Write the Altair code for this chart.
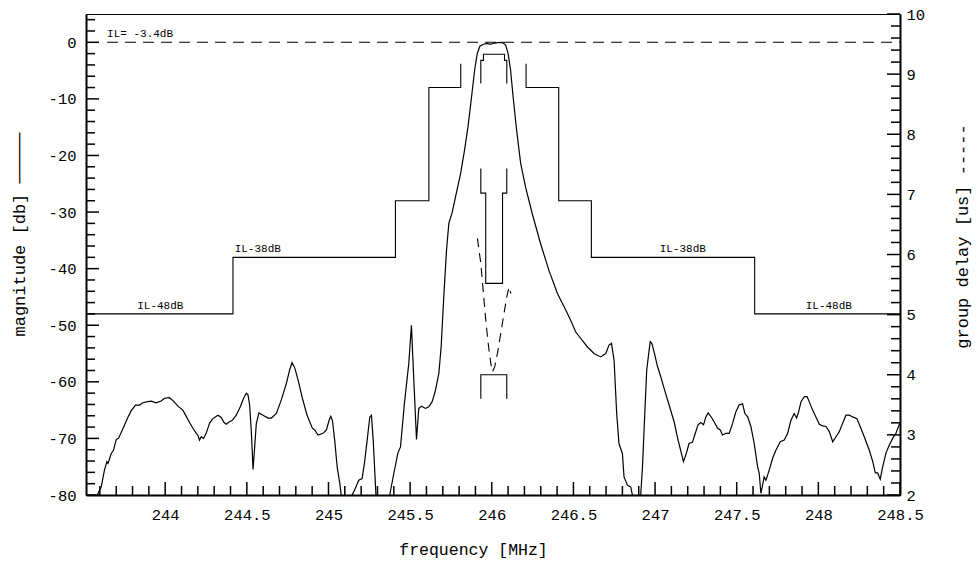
import altair as alt
import pandas as pd

# ---------------- data ----------------
freq_mhz = [243.570, 243.587, 243.608, 243.628, 243.643, 243.650, 243.669, 243.683, 243.700, 243.714,
            243.741, 243.771, 243.792, 243.818, 243.843, 243.863, 243.894, 243.914, 243.945, 243.975,
            243.996, 244.026, 244.051, 244.078, 244.108, 244.129, 244.149, 244.170, 244.190, 244.200,
            244.210, 244.221, 244.235, 244.251, 244.272, 244.292, 244.323, 244.343, 244.358, 244.374,
            244.391, 244.411, 244.435, 244.460, 244.480, 244.497, 244.507, 244.517, 244.527, 244.538,
            244.548, 244.558, 244.574, 244.599, 244.630, 244.650, 244.681, 244.711, 244.742, 244.762,
            244.777, 244.793, 244.814, 244.840, 244.869, 244.901, 244.916, 244.936, 244.967, 244.987,
            245.004, 245.014, 245.024, 245.038, 245.053, 245.069, 245.090, 245.135, 245.145, 245.165,
            245.185, 245.206, 245.220, 245.237, 245.253, 245.263, 245.274, 245.284, 245.296, 245.370,
            245.375, 245.400, 245.425, 245.441, 245.465, 245.492, 245.508, 245.520, 245.539, 245.553,
            245.570, 245.594, 245.614, 245.635, 245.655, 245.676, 245.690, 245.706, 245.723, 245.737,
            245.758, 245.778, 245.809, 245.833, 245.854, 245.874, 245.895, 245.911, 245.927, 245.948,
            245.972, 245.990, 246.003, 246.034, 246.064, 246.085, 246.100, 246.115, 246.131, 246.152,
            246.177, 246.207, 246.248, 246.299, 246.350, 246.402, 246.453, 246.483, 246.514, 246.544,
            246.585, 246.626, 246.667, 246.698, 246.718, 246.733, 246.749, 246.765, 246.779, 246.800,
            246.810, 246.831, 246.851, 246.865, 246.875, 246.905, 246.912, 246.923, 246.937, 246.949,
            246.970, 246.980, 246.994, 247.015, 247.035, 247.059, 247.086, 247.117, 247.141, 247.174,
            247.192, 247.208, 247.229, 247.243, 247.263, 247.280, 247.297, 247.311, 247.325, 247.346,
            247.362, 247.383, 247.399, 247.413, 247.434, 247.454, 247.475, 247.495, 247.515, 247.536,
            247.550, 247.567, 247.587, 247.607, 247.628, 247.638, 247.648, 247.658, 247.668, 247.679,
            247.699, 247.720, 247.740, 247.767, 247.791, 247.812, 247.832, 247.852, 247.867, 247.879,
            247.894, 247.914, 247.931, 247.944, 247.965, 247.985, 248.006, 248.026, 248.047, 248.067,
            248.088, 248.108, 248.128, 248.149, 248.169, 248.190, 248.210, 248.236, 248.256, 248.281,
            248.312, 248.333, 248.349, 248.363, 248.379, 248.394, 248.414, 248.434, 248.455, 248.475,
            248.495, 248.500]
mag_db = [-83.0, -79.8, -78.6, -75.6, -74.1, -74.4, -72.7, -72.1, -70.2, -70.0,
          -68.3, -66.3, -65.1, -64.1, -64.1, -63.7, -63.5, -63.4, -63.7, -63.4,
          -62.9, -62.8, -63.4, -64.3, -65.0, -66.1, -67.2, -68.2, -69.1, -69.4,
          -70.3, -69.7, -70.0, -69.1, -67.3, -66.5, -65.9, -66.3, -67.1, -67.5,
          -67.1, -66.8, -65.9, -64.4, -62.9, -62.0, -62.3, -64.1, -68.5, -75.5,
          -71.5, -67.4, -65.5, -65.9, -66.4, -66.4, -65.6, -63.2, -60.3, -57.9,
          -56.6, -57.5, -59.7, -62.9, -65.9, -68.2, -68.5, -69.4, -69.1, -68.5,
          -66.8, -66.1, -66.8, -70.3, -75.0, -77.9, -83.0, -83.0, -80.0, -78.8,
          -77.4, -77.1, -74.4, -70.3, -66.2, -65.9, -70.3, -76.2, -83.0, -83.0,
          -80.0, -76.2, -72.6, -71.5, -63.8, -56.7, -50.0, -58.0, -70.2, -64.7,
          -64.3, -64.7, -64.4, -63.5, -61.5, -58.5, -53.8, -45.0, -36.7, -32.0,
          -30.0, -27.3, -23.2, -19.1, -15.0, -10.2, -4.9, -2.0, -0.7, -0.35,
          -0.2, -0.35, -0.25, -0.05, 0.0, -0.5, -2.0, -4.9, -9.7, -15.5,
          -21.4, -25.6, -30.3, -35.6, -40.3, -44.4, -47.3, -49.1, -51.2, -52.3,
          -53.8, -55.0, -55.6, -55.0, -53.5, -53.2, -56.2, -65.6, -70.9, -72.7,
          -76.8, -78.3, -78.6, -80.5, -83.0, -83.0, -80.0, -75.0, -65.6, -57.9,
          -52.9, -53.2, -54.7, -57.3, -59.1, -61.5, -64.1, -67.1, -70.3, -74.1,
          -72.6, -70.9, -70.7, -69.4, -67.6, -67.2, -67.6, -66.2, -65.5, -66.3,
          -67.1, -68.2, -68.5, -69.4, -69.1, -69.1, -67.3, -65.3, -64.1, -63.9,
          -65.6, -66.2, -67.9, -70.9, -75.0, -76.2, -79.7, -78.3, -76.8, -77.4,
          -75.6, -73.5, -72.1, -70.6, -70.3, -69.1, -66.8, -65.6, -66.4, -65.3,
          -63.5, -62.6, -62.6, -63.5, -65.0, -66.2, -67.5, -67.8, -67.9, -68.8,
          -70.6, -69.7, -68.8, -67.3, -65.9, -65.9, -66.2, -66.5, -67.9, -69.7,
          -72.1, -74.1, -76.1, -76.1, -77.2, -75.0, -72.6, -71.2, -70.0, -69.1,
          -67.6, -67.3]

# magnitude masks (dB): left stopband, right stopband, passband
maskL_f = [243.515, 244.415, 244.415, 245.41, 245.41, 245.615, 245.615, 245.81, 245.81]
maskL_db = [-48, -48, -38, -38, -28, -28, -8, -8, -3.8]
maskR_f = [246.21, 246.21, 246.41, 246.41, 246.61, 246.61, 247.61, 247.61, 248.5]
maskR_db = [-3.8, -8, -8, -28, -28, -38, -38, -48, -48]
maskP_f = [245.933, 245.933, 245.949, 245.949, 246.078, 246.078, 246.092, 246.092]
maskP_db = [-7.3, -3.2, -3.2, -2.1, -2.1, -3.2, -3.2, -7.3]

# group delay masks (us)
gdU_f = [245.933, 245.933, 245.963, 245.963, 246.066, 246.066, 246.092, 246.092]
gdU_us = [7.43, 7.02, 7.02, 5.52, 5.52, 7.02, 7.02, 7.43]
gdL_f = [245.933, 245.933, 246.092, 246.092]
gdL_us = [3.6, 4.0, 4.0, 3.6]

# group delay curve (us)
gd_f = [245.912, 245.933, 245.949, 245.963, 245.978, 245.994, 246.004, 246.018, 246.035,
        246.055, 246.075, 246.092, 246.106, 246.117]
gd_us = [6.27, 5.85, 5.35, 4.91, 4.52, 4.19, 4.05, 4.13, 4.36, 4.69, 5.02, 5.30, 5.46, 5.35]

# insertion loss reference line and annotations
il_line_f = [243.644, 248.5]
il_line_db = [0, 0]
il_text = ["IL= -3.4dB"]
il_text_f = [243.644]
il_text_db = [0]
lvl_text = ["IL-48dB", "IL-38dB", "IL-38dB", "IL-48dB"]
lvl_text_f = [243.97, 244.567, 247.17, 248.064]
lvl_text_db = [-48, -38, -38, -48]

# axis tick values
x_major = [244.0, 244.5, 245.0, 245.5, 246.0, 246.5, 247.0, 247.5, 248.0, 248.5]
x_minor = [round(243.6 + 0.1 * i, 1) for i in range(49)]
x_minor = [v for v in x_minor if v not in x_major]
y_major = [-80, -70, -60, -50, -40, -30, -20, -10, 0]
y_minor = [v for v in range(-78, 5, 2) if v % 10 != 0]
r_major = [2, 3, 4, 5, 6, 7, 8, 9, 10]
r_minor = [round(2 + 0.2 * i, 1) for i in range(1, 40)]
r_minor = [v for v in r_minor if abs(v - round(v)) > 1e-6]

# ---------------- chart ----------------
W, H = 814, 481
FONT = "Liberation Mono"
xs = alt.Scale(domain=[243.515, 248.5], nice=False, zero=False)
ys = alt.Scale(domain=[-80, 5], nice=False, zero=False)
rs = alt.Scale(domain=[2, 10], nice=False, zero=False)

def seg_df(segs):
    rows = []
    for sid, (fs, vs) in enumerate(segs):
        for i, (f, v) in enumerate(zip(fs, vs)):
            rows.append({"f": f, "v": v, "seg": sid, "o": i})
    return pd.DataFrame(rows)

mask_df = seg_df([(maskL_f, maskL_db), (maskR_f, maskR_db), (maskP_f, maskP_db)])
gdmask_df = seg_df([(gdU_f, gdU_us), (gdL_f, gdL_us)])
curve_df = pd.DataFrame({"f": freq_mhz, "v": mag_db})
gd_df = pd.DataFrame({"f": gd_f, "v": gd_us})
il_df = pd.DataFrame({"f": il_line_f, "v": il_line_db})
ilt_df = pd.DataFrame({"f": il_text_f, "v": il_text_db, "t": il_text})
lvl_df = pd.DataFrame({"f": lvl_text_f, "v": lvl_text_db, "t": lvl_text})

x_axis = alt.Axis(values=x_major, format=".1~f", ticks=False, tickSize=0, grid=False,
                  domainColor="black", domainWidth=2, labelFont=FONT, labelFontSize=15.5,
                  labelColor="black", labelPadding=12, labelFlush=False, labelOverlap=False,
                  title="frequency [MHz]", titleFont=FONT, titleFontSize=16.5,
                  titleFontWeight="normal", titleColor="black", titleX=387, titleY=54,
                  titleAlign="center", titleBaseline="middle")
y_axis = alt.Axis(values=y_major, labelExpr="datum.value < 0 ? '-' + (-datum.value) : '' + datum.value",
                  ticks=False, tickSize=0, grid=False, domainColor="black", domainWidth=2,
                  labelFont=FONT, labelFontSize=15.5, labelColor="black", labelPadding=10,
                  labelOverlap=False, labelFlush=False,
                  title="magnitude [db]   \u2500\u2500\u2500\u2500\u2500", titleFont=FONT, titleFontSize=17,
                  titleFontWeight="normal", titleColor="black", titleAngle=270, titleX=-67, titleY=220,
                  titleAlign="center", titleBaseline="middle")
r_axis = alt.Axis(values=r_major, format="d", orient="right", ticks=False, tickSize=0, grid=False,
                  domainColor="black", domainWidth=2, labelFont=FONT, labelFontSize=15.5,
                  labelColor="black", labelPadding=6, labelOverlap=False, labelFlush=False,
                  title="group delay [us]   -----", titleFont=FONT, titleFontSize=17,
                  titleFontWeight="normal", titleColor="black", titleAngle=270, titleX=62, titleY=222,
                  titleAlign="center", titleBaseline="middle")

XE = lambda: alt.X("f:Q", scale=xs, axis=x_axis)
YE = lambda: alt.Y("v:Q", scale=ys, axis=y_axis)
RE = lambda: alt.Y("v:Q", scale=rs, axis=r_axis)

curve = alt.Chart(curve_df).mark_line(color="black", strokeWidth=1.2, clip=True).encode(x=XE(), y=YE())
masks = alt.Chart(mask_df).mark_line(color="black", strokeWidth=1.1, clip=True).encode(
    x=XE(), y=YE(), detail="seg:N", order="o:Q")
il_line = alt.Chart(il_df).mark_line(color="black", strokeWidth=1.1, strokeDash=[11, 7]).encode(
    x=XE(), y=YE())
il_txt = alt.Chart(ilt_df).mark_text(font=FONT, fontSize=11, align="left", baseline="bottom",
                                     dy=-3, color="black").encode(x=XE(), y=YE(), text="t:N")
lvl_txt = alt.Chart(lvl_df).mark_text(font=FONT, fontSize=11, align="center", baseline="bottom",
                                      dy=-3, color="black").encode(x=XE(), y=YE(), text="t:N")

xmaj = alt.Chart(pd.DataFrame({"f": x_major})).mark_rule(color="black", strokeWidth=1.5).encode(
    x=XE(), y=alt.value(H), y2=alt.value(H - 13))
xmin = alt.Chart(pd.DataFrame({"f": x_minor})).mark_rule(color="black", strokeWidth=1.5).encode(
    x=XE(), y=alt.value(H), y2=alt.value(H - 9))
ymaj = alt.Chart(pd.DataFrame({"v": y_major})).mark_rule(color="black", strokeWidth=1.5).encode(
    y=YE(), x=alt.value(0), x2=alt.value(13))
ymin = alt.Chart(pd.DataFrame({"v": y_minor})).mark_rule(color="black", strokeWidth=1.5).encode(
    y=YE(), x=alt.value(0), x2=alt.value(9))

left = alt.layer(curve, masks, il_line, il_txt, lvl_txt, xmaj, xmin, ymaj, ymin)

gd_curve = alt.Chart(gd_df).mark_line(color="black", strokeWidth=1.1, strokeDash=[9, 6]).encode(
    x=XE(), y=RE())
gd_mask = alt.Chart(gdmask_df).mark_line(color="black", strokeWidth=1.1).encode(
    x=XE(), y=RE(), detail="seg:N", order="o:Q")
rmaj = alt.Chart(pd.DataFrame({"v": r_major})).mark_rule(color="black", strokeWidth=1.5).encode(
    y=RE(), x=alt.value(W - 13), x2=alt.value(W))
rmin = alt.Chart(pd.DataFrame({"v": r_minor})).mark_rule(color="black", strokeWidth=1.5).encode(
    y=RE(), x=alt.value(W - 9), x2=alt.value(W))

right = alt.layer(gd_curve, gd_mask, rmaj, rmin)

chart = alt.layer(left, right).resolve_scale(y="independent").properties(
    width=W, height=H,
    autosize=alt.AutoSizeParams(type="none"),
    padding={"left": 78, "top": 6, "right": 72, "bottom": 68},
    background="white",
).configure_view(stroke="black", strokeWidth=1)

chart.save("out.html", embed_options={"renderer": "svg", "actions": False})
